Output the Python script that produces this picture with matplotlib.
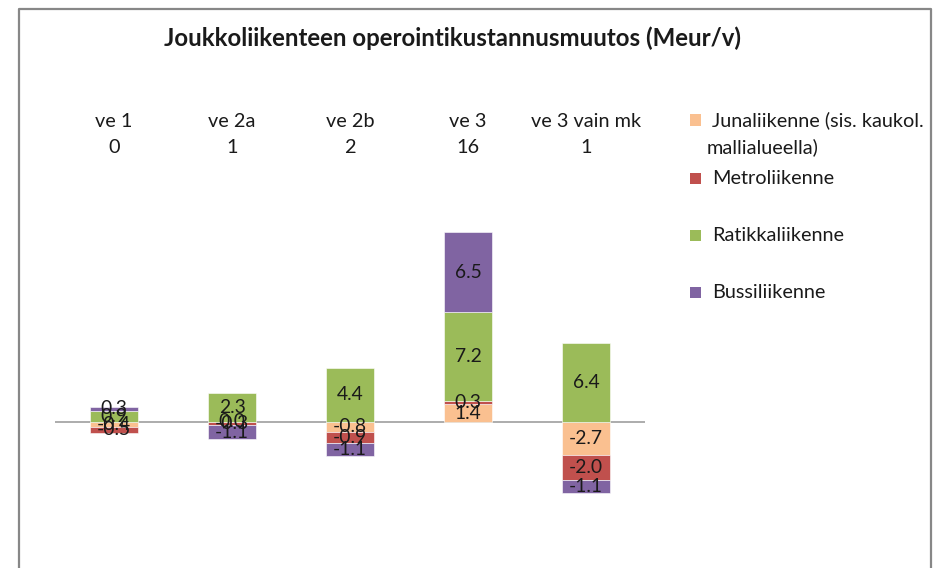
import matplotlib
matplotlib.use("Agg")
import matplotlib.pyplot as plt
from matplotlib.patches import Rectangle
import numpy as np

# ---------------- data ----------------
categories = ["ve 1", "ve 2a", "ve 2b", "ve 3", "ve 3 vain mk"]
cat_counts = ["0", "1", "2", "16", "1"]
series_names = ["Junaliikenne (sis. kaukol.\nmallialueella)", "Metroliikenne",
                "Ratikkaliikenne", "Bussiliikenne"]
juna = [-0.4, 0.0, -0.8, 1.4, -2.7]
metro = [-0.5, -0.3, -0.9, 0.3, -2.0]
ratikka = [0.9, 2.3, 4.4, 7.2, 6.4]
bussi = [0.3, -1.1, -1.1, 6.5, -1.1]
title = "Joukkoliikenteen operointikustannusmuutos (Meur/v)"

colors = ["#FAC090", "#C0504D", "#9BBB59", "#8064A2"]
FONT = "Lato"
plt.rcParams["font.family"] = [FONT, "DejaVu Sans"]

W, H = 941, 568
fig = plt.figure(figsize=(W / 100, H / 100), dpi=100)
fig.patch.set_facecolor("white")

def px(x, y):
    return x / W, 1 - y / H

# axes: left 55, right 645, top 160, bottom 568 (pixels)
ax_l, ax_r, ax_t, ax_b = 55, 645, 160, 568
ax = fig.add_axes([ax_l / W, 1 - ax_b / H, (ax_r - ax_l) / W, (ax_b - ax_t) / H])
zero_y = 421.7
ppu = 12.3
ax.set_ylim(-(ax_b - zero_y) / ppu, (zero_y - ax_t) / ppu)
ax.set_xlim(-0.5, len(categories) - 0.5)
for s in ax.spines.values():
    s.set_visible(False)
ax.set_yticks([])
ax.axhline(0, color="#A6A6A6", lw=1.3, zorder=1)

x = np.arange(len(categories))
pos = np.zeros(len(categories))
neg = np.zeros(len(categories))
renderer = fig.canvas.get_renderer()

def fit(t, target):
    t.set_fontsize(10)
    w = t.get_window_extent(renderer).width
    t.set_fontsize(10 * target / w)

label_texts = []
for vals, col in zip([juna, metro, ratikka, bussi], colors):
    v = np.array(vals, dtype=float)
    bottom = np.where(v >= 0, pos, neg)
    cont = ax.bar(x, v, 0.4, bottom=bottom, color=col, edgecolor="white",
                  linewidth=0.4, zorder=2)
    lbls = ax.bar_label(cont, labels=[f"{a:.1f}" for a in v], label_type="center",
                        color="#1a1a1a", fontsize=12.5, zorder=3)
    label_texts += lbls
    pos = np.where(v >= 0, pos + v, pos)
    neg = np.where(v < 0, neg + v, neg)

# fit data label size: "-2.7" ~34 px wide
ref = label_texts[4]
fit(ref, 34)
fs_data = ref.get_fontsize()
for t in label_texts:
    t.set_fontsize(fs_data)

# category labels at top
ax.xaxis.tick_top()
ax.set_xticks(x, [f"{c}\n{n}" for c, n in zip(categories, cat_counts)])
ax.tick_params(axis="x", length=0, pad=3, colors="#1a1a1a")
tl = ax.get_xticklabels()
t_tmp = fig.text(0, 0, "ve 3 vain mk")
fit(t_tmp, 110)
fs_cat = t_tmp.get_fontsize()
t_tmp.remove()
for t in tl:
    t.set_fontsize(fs_cat)
    t.set_linespacing(1.6)

# title
tt = fig.text(*px(452, 38), title, ha="center", va="center", fontweight="bold",
              color="#1a1a1a")
fit(tt, 580)

# legend (manual)
leg_y = [120, 178.5, 235.5, 292.5]
tm = fig.text(0, 0, "Metroliikenne")
fit(tm, 123)
fs_leg = tm.get_fontsize()
tm.remove()
for name, col, yy in zip(series_names, colors, leg_y):
    fig.add_artist(Rectangle(px(690, yy + 5.5), 11 / W, 11 / H, transform=fig.transFigure,
                             facecolor=col, edgecolor="none"))
    lines = name.split("\n")
    fig.text(*px(712, yy), lines[0], ha="left", va="center", fontsize=fs_leg,
             color="#1a1a1a")
    if len(lines) > 1:
        fig.text(*px(707, yy + 27), lines[1], ha="left", va="center",
                 fontsize=fs_leg, color="#1a1a1a")

# outer frame (open at bottom)
fig.add_artist(plt.Line2D([19 / W, 19 / W, 930.5 / W, 930.5 / W],
                          [0, 1 - 9 / H, 1 - 9 / H, 0], transform=fig.transFigure,
                          color="#878787", lw=1.6))

fig.savefig("out.png", dpi=100, facecolor="white")
